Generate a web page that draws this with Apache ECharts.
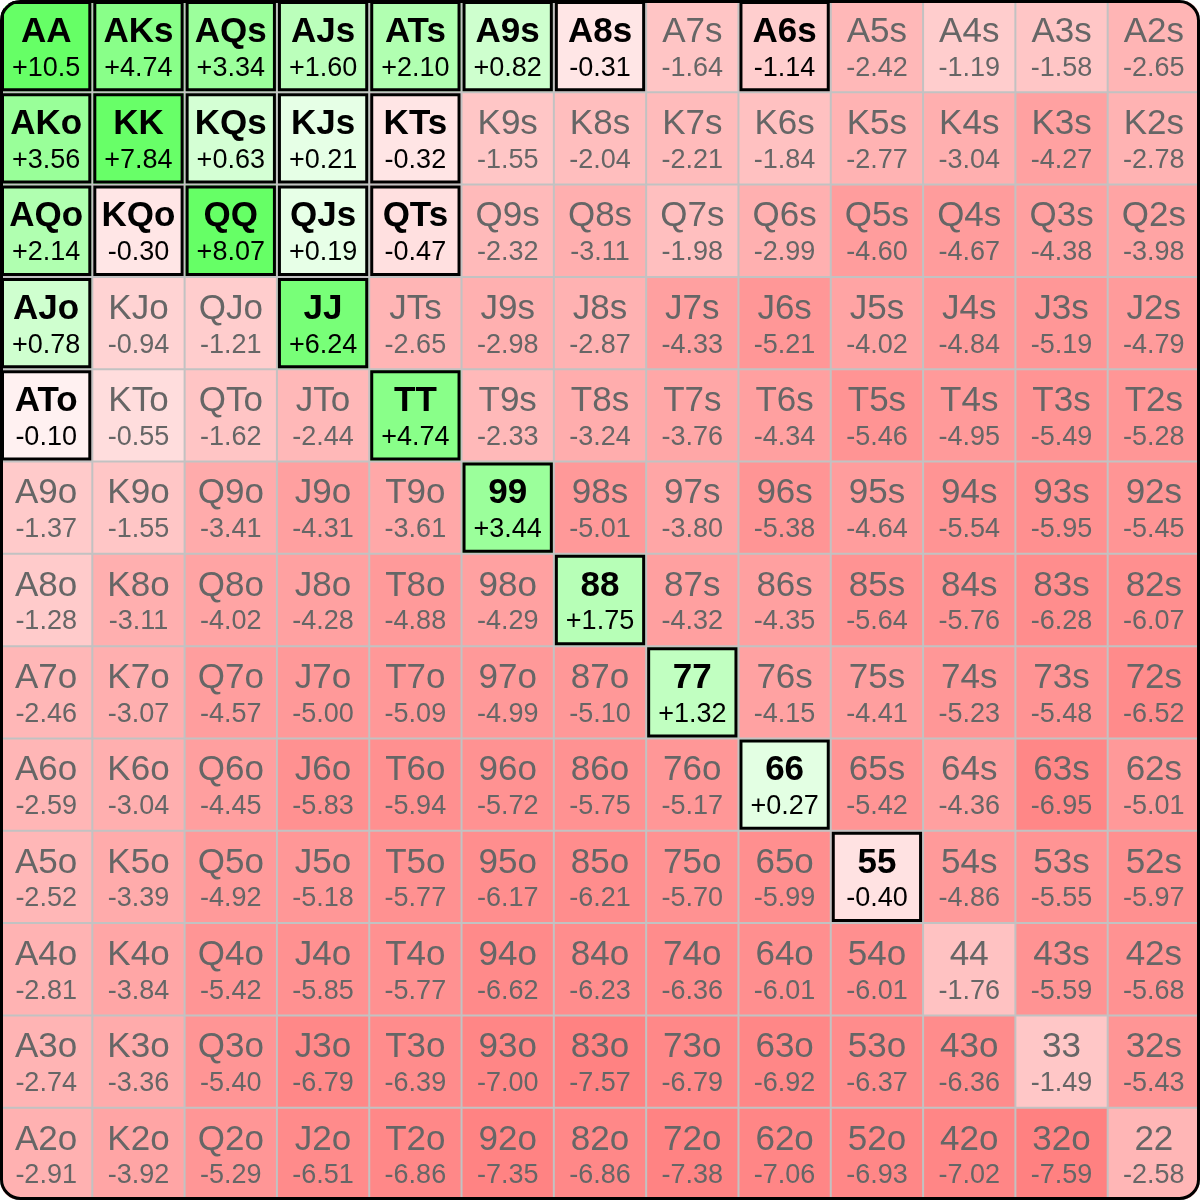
<!DOCTYPE html>
<html>
<head>
<meta charset="utf-8">
<script src="https://cdn.jsdelivr.net/npm/echarts@6/dist/echarts.min.js"></script>
<style>html,body{margin:0;padding:0;background:#fff;}#c{width:1200px;height:1200px;}</style>
</head>
<body>
<div id="c"></div>
<script>
const ranks = ['A','K','Q','J','T','9','8','7','6','5','4','3','2'];
const row0  = [10.5, 4.74, 3.34, 1.60, 2.10, 0.82, -0.31, -1.64, -1.14, -2.42, -1.19, -1.58, -2.65];
const row1  = [3.56, 7.84, 0.63, 0.21, -0.32, -1.55, -2.04, -2.21, -1.84, -2.77, -3.04, -4.27, -2.78];
const row2  = [2.14, -0.30, 8.07, 0.19, -0.47, -2.32, -3.11, -1.98, -2.99, -4.60, -4.67, -4.38, -3.98];
const row3  = [0.78, -0.94, -1.21, 6.24, -2.65, -2.98, -2.87, -4.33, -5.21, -4.02, -4.84, -5.19, -4.79];
const row4  = [-0.10, -0.55, -1.62, -2.44, 4.74, -2.33, -3.24, -3.76, -4.34, -5.46, -4.95, -5.49, -5.28];
const row5  = [-1.37, -1.55, -3.41, -4.31, -3.61, 3.44, -5.01, -3.80, -5.38, -4.64, -5.54, -5.95, -5.45];
const row6  = [-1.28, -3.11, -4.02, -4.28, -4.88, -4.29, 1.75, -4.32, -4.35, -5.64, -5.76, -6.28, -6.07];
const row7  = [-2.46, -3.07, -4.57, -5.00, -5.09, -4.99, -5.10, 1.32, -4.15, -4.41, -5.23, -5.48, -6.52];
const row8  = [-2.59, -3.04, -4.45, -5.83, -5.94, -5.72, -5.75, -5.17, 0.27, -5.42, -4.36, -6.95, -5.01];
const row9  = [-2.52, -3.39, -4.92, -5.18, -5.77, -6.17, -6.21, -5.70, -5.99, -0.40, -4.86, -5.55, -5.97];
const row10 = [-2.81, -3.84, -5.42, -5.85, -5.77, -6.62, -6.23, -6.36, -6.01, -6.01, -1.76, -5.59, -5.68];
const row11 = [-2.74, -3.36, -5.40, -6.79, -6.39, -7.00, -7.57, -6.79, -6.92, -6.37, -6.36, -1.49, -5.43];
const row12 = [-2.91, -3.92, -5.29, -6.51, -6.86, -7.35, -6.86, -7.38, -7.06, -6.93, -7.02, -7.59, -2.58];
const rows = [row0,row1,row2,row3,row4,row5,row6,row7,row8,row9,row10,row11,row12];
const selected = ['AA','AKs','AQs','AJs','ATs','A9s','A8s','A6s','AKo','KK','KQs','KJs','KTs',
  'AQo','KQo','QQ','QJs','QTs','AJo','JJ','ATo','TT','99','88','77','66','55'];

function handName(r, c) {
  if (r === c) return ranks[r] + ranks[c];
  if (c > r) return ranks[r] + ranks[c] + 's';
  return ranks[c] + ranks[r] + 'o';
}
function fmt(v) {
  const s = Math.abs(v) >= 10 ? Math.abs(v).toFixed(1) : Math.abs(v).toFixed(2);
  return (v >= 0 ? '+' : '-') + s;
}
function cellColor(v) {
  const t = Math.sqrt(Math.min(Math.abs(v) / 8, 1));
  if (v >= 0) {
    const c = Math.round(255 - t * 153);
    return 'rgb(' + c + ',255,' + c + ')';
  }
  const c = Math.round(255 - t * 129);
  return 'rgb(255,' + c + ',' + c + ')';
}

const data = [];
rows.forEach((row, r) => row.forEach((v, c) => data.push([c, r, v])));

const chart = echarts.init(document.getElementById('c'));
const FONT = '"Liberation Sans", Arial, sans-serif';
chart.setOption({
  animation: false,
  backgroundColor: '#fff',
  grid: { left: 0, right: 0, top: 0, bottom: 0, show: true, backgroundColor: '#c2c2c2', borderWidth: 0 },
  xAxis: { type: 'category', data: ranks, show: false },
  yAxis: { type: 'category', data: ranks, inverse: true, show: false },
  series: [{
    type: 'custom',
    data: data,
    renderItem: function (params, api) {
      const col = api.value(0), r = api.value(1), v = api.value(2);
      const p = api.coord([col, r]);
      const s = api.size([1, 1]);
      const x0 = p[0] - s[0] / 2, y0 = p[1] - s[1] / 2;
      const name = handName(r, col);
      const sel = selected.indexOf(name) >= 0;
      const children = [{
        type: 'rect',
        shape: { x: x0 + 1, y: y0 + 1, width: s[0] - 2, height: s[1] - 2 },
        style: { fill: cellColor(v) }
      }];
      if (sel) {
        children.push({
          type: 'rect',
          shape: { x: x0 + 2.5, y: y0 + 2.5, width: s[0] - 5, height: s[1] - 5 },
          style: { fill: null, stroke: '#000', lineWidth: 3 }
        });
      }
      children.push({
        type: 'text',
        style: {
          x: p[0], y: p[1] - 14, text: name, align: 'center', verticalAlign: 'middle',
          font: (sel ? 'bold ' : '') + '35px ' + FONT, fill: sel ? '#000' : '#666'
        }
      });
      children.push({
        type: 'text',
        style: {
          x: p[0], y: p[1] + 22, text: fmt(v), align: 'center', verticalAlign: 'middle',
          font: '27px ' + FONT, fill: sel ? '#000' : '#666'
        }
      });
      return { type: 'group', children: children };
    }
  }],
  graphic: [
    { type: 'rect', z: 100, shape: { x: -20, y: -20, width: 1240, height: 1240, r: 40 },
      style: { fill: null, stroke: '#fff', lineWidth: 40 } },
    { type: 'rect', z: 101, shape: { x: 1.5, y: 1.5, width: 1197, height: 1197, r: 19 },
      style: { fill: null, stroke: '#000', lineWidth: 3 } }
  ]
});
</script>
</body>
</html>
